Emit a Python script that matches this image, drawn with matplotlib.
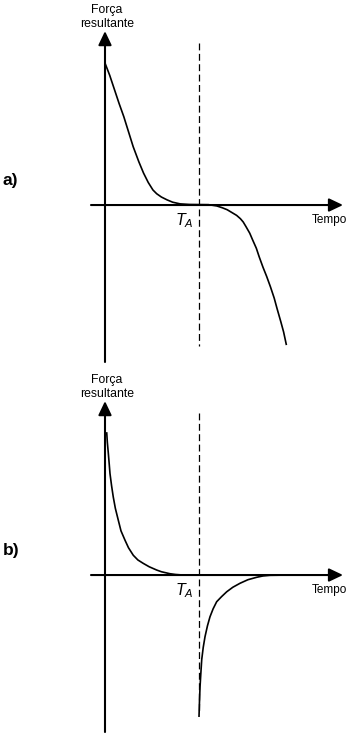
import matplotlib
matplotlib.use("Agg")
import matplotlib.pyplot as plt

plt.rcParams["font.family"] = ["Liberation Sans", "DejaVu Sans"]
plt.rcParams["mathtext.fontset"] = "custom"
plt.rcParams["mathtext.it"] = "Liberation Sans:italic"
plt.rcParams["mathtext.rm"] = "Liberation Sans"

# time in units of T_A, force in arbitrary units (same scale in both panels)
T_A = 1.0

# panel a) - force falls to zero at T_A, then goes negative
ta = [0.0, 0.05, 0.09, 0.15, 0.2, 0.25, 0.3, 0.36, 0.41, 0.46, 0.51, 0.55, 0.6,
      0.66, 0.72, 0.8, 0.9, 1.0, 1.1, 1.19, 1.25, 1.3, 1.35, 1.4, 1.44, 1.47, 1.5,
      1.54, 1.57, 1.61, 1.64, 1.68, 1.72, 1.76, 1.8, 1.83, 1.87, 1.9, 1.93]
Fa = [1.51, 1.38, 1.26, 1.08, 0.94, 0.78, 0.62, 0.46, 0.34, 0.24, 0.16, 0.12, 0.085,
      0.055, 0.03, 0.012, 0.006, 0.005, 0.004, -0.01, -0.03, -0.05, -0.08, -0.11,
      -0.145, -0.18, -0.23, -0.30, -0.37, -0.46, -0.55, -0.66, -0.76, -0.87, -0.99,
      -1.10, -1.24, -1.35, -1.49]

# panel b) - force decays to zero before T_A, then jumps negative and decays back
tb_left = [0.018, 0.025, 0.035, 0.045, 0.053, 0.07, 0.088, 0.11, 0.141, 0.17, 0.213,
           0.25, 0.301, 0.35, 0.407, 0.47, 0.55, 0.6, 0.69, 0.75, 0.83, 1.0]
Fb_left = [1.52, 1.41, 1.30, 1.18, 1.08, 0.95, 0.83, 0.71, 0.585, 0.47, 0.37, 0.29,
           0.21, 0.16, 0.124, 0.088, 0.053, 0.035, 0.014, 0.006, 0.0, 0.0]
tb_right = [1.0, 1.005, 1.011, 1.02, 1.029, 1.045, 1.064, 1.09, 1.117, 1.15, 1.188,
            1.24, 1.295, 1.36, 1.436, 1.52, 1.614, 1.68, 1.755, 1.97]
Fb_right = [-1.51, -1.35, -1.19, -1.04, -0.90, -0.77, -0.656, -0.54, -0.444, -0.36,
            -0.284, -0.23, -0.178, -0.13, -0.088, -0.05, -0.024, -0.01, -0.003, 0.0]

panels = [
    ("a)", [(ta, Fa)], (-1.755, 2.181)),
    ("b)", [(tb_left, Fb_left), (tb_right, Fb_right)], (-1.723, 2.181)),
]

fig = plt.figure(figsize=(3.54, 7.37), dpi=100)
# axes rectangles in figure fractions (top panel, bottom panel)
rects = [[0, 367 / 737, 1, 370 / 737], [0, 0, 1, 367 / 737]]

arrow = dict(arrowstyle="-|>,head_length=0.42,head_width=0.2", mutation_scale=20,
             lw=1.5, color="black", shrinkA=0, shrinkB=0)

for (label, curves, ylim), rect in zip(panels, rects):
    ax = fig.add_axes(rect)
    ax.set_xlim(-1.117, 2.649)
    ax.set_ylim(*ylim)
    ax.axis("off")

    # axes drawn as arrows
    ax.annotate("", xy=(0, 1.85), xytext=(0, -1.67), arrowprops=arrow)
    ax.annotate("", xy=(2.532, 0), xytext=(-0.149, 0), arrowprops=arrow)

    # dashed line at T_A
    ax.plot([T_A, T_A], [1.723, ylim[0] + 0.25], color="black", lw=0.9,
            linestyle=(0, (5.5, 2.8)))

    for t, F in curves:
        ax.plot(t, F, color="black", lw=1.2, solid_capstyle="butt",
                solid_joinstyle="round")

    ax.text(0.02, 2.039, "Força", ha="center", va="baseline", fontsize=8.8)
    ax.text(0.02, 1.897, "resultante", ha="center", va="baseline", fontsize=8.8)
    ax.text(2.39, -0.16, "Tempo", ha="center", va="center", fontsize=8.5)
    ax.text(0.74, -0.17, r"$T_A$", ha="left", va="center", fontsize=11.5)
    ax.text(-1.088, 0.266, label, ha="left", va="center", fontsize=12.5,
            fontweight="bold")

plt.savefig("out.png", dpi=100)
